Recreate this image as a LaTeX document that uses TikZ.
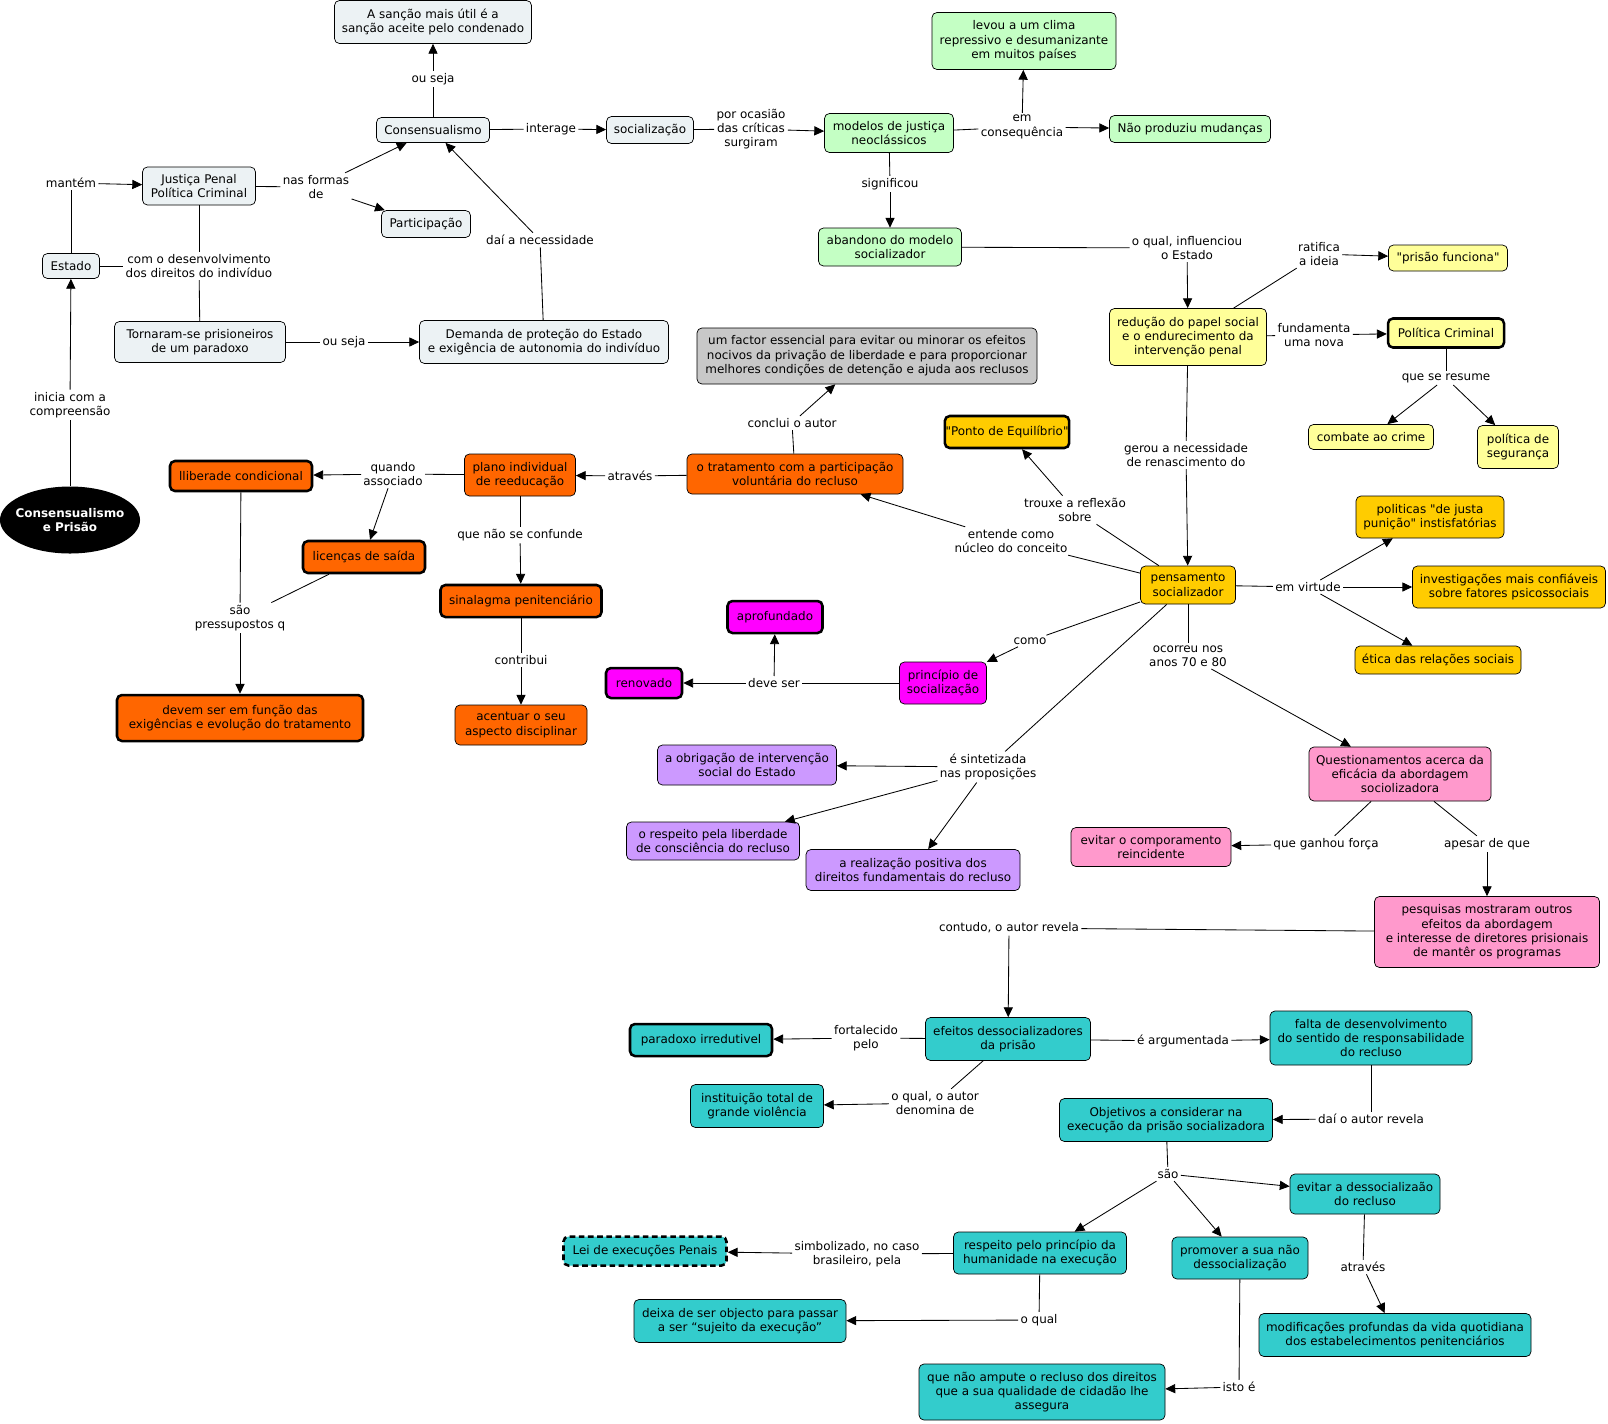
\documentclass[tikz,border=0pt]{standalone}
\usepackage{fontspec}
\newfontfamily\cmfam{DejaVu Sans}
\definecolor{paleblue}{RGB}{236,242,244}
\definecolor{mint}{RGB}{196,255,196}
\definecolor{lemon}{RGB}{255,255,153}
\definecolor{amber}{RGB}{255,204,0}
\definecolor{pumpkin}{RGB}{255,102,0}
\definecolor{silver}{RGB}{200,200,200}
\definecolor{fuchsia}{RGB}{255,0,255}
\definecolor{lilac}{RGB}{204,153,255}
\definecolor{rosepink}{RGB}{255,153,204}
\definecolor{aquabox}{RGB}{51,204,204}
\usetikzlibrary{arrows.meta, shapes.geometric}
\newcommand{\cmfont}{\cmfam\fontsize{8.5pt}{10.2pt}\selectfont}

\begin{document}
\begin{tikzpicture}[x=0.025cm, y=-0.025cm,
  cpt/.style={draw, rounded corners=3.5pt, align=center, font=\cmfont, inner sep=2pt, line width=0.5pt},
  sz/.style 2 args={minimum width=#1*0.025cm, minimum height=#2*0.025cm},
  thk/.style={line width=1.8pt},
  lbl/.style={font=\cmfont, align=center, inner sep=1.5pt},
  link/.style={line width=0.6pt},
  arrow/.style={-{Triangle[length=7pt, width=6.5pt]}, line width=0.6pt},
]
  \fill[white] (0,0) rectangle (1608,1423);
  \useasboundingbox (0,0) rectangle (1608,1423);

  % concepts
  \node[cpt, fill=paleblue, sz={197}{43}] (sancao) at (433,22) {A sanção mais útil é a\\sanção aceite pelo condenado};
  \node[cpt, fill=paleblue, sz={113}{25}] (consens) at (433,130) {Consensualismo};
  \node[cpt, fill=paleblue, sz={113}{38}] (justica) at (199,186) {Justiça Penal\\Política Criminal};
  \node[cpt, fill=paleblue, sz={89}{27}] (particip) at (426,224) {Participação};
  \node[cpt, fill=paleblue, sz={57}{25}] (estado) at (71,266) {Estado};
  \node[cpt, fill=paleblue, sz={171}{41}] (tornaram) at (200,342) {Tornaram-se prisioneiros\\de um paradoxo};
  \node[cpt, fill=paleblue, sz={249}{43}] (demanda) at (544,342) {Demanda de proteção do Estado\\e exigência de autonomia do indivíduo};
  \node[cpt, fill=paleblue, sz={87}{27}] (socializ) at (650,130) {socialização};
  \node[ellipse, fill=black, text=white, align=center, font=\cmfont\bfseries, sz={140}{67}, inner xsep=-3.5pt, inner ysep=0pt] (cprisao) at (70,520) {Consensualismo\\e Prisão};

  \node[cpt, fill=mint, sz={129}{39}] (modelos) at (889,133) {modelos de justiça\\neoclássicos};
  \node[cpt, fill=mint, sz={184}{57}] (levou) at (1024,41) {levou a um clima\\repressivo e desumanizante\\em muitos países};
  \node[cpt, fill=mint, sz={161}{27}] (naoprod) at (1190,129) {Não produziu mudanças};
  \node[cpt, fill=mint, sz={143}{38}] (abandono) at (890,247) {abandono do modelo\\socializador};

  \node[cpt, fill=lemon, sz={157}{57}] (reducao) at (1188,337) {redução do papel social\\e o endurecimento da\\intervenção penal};
  \node[cpt, fill=lemon, sz={119}{26}] (prisaof) at (1448,258) {"prisão funciona"};
  \node[cpt, fill=lemon, thk, sz={116}{29}] (politcrim) at (1446,333) {Política Criminal};
  \node[cpt, fill=lemon, sz={125}{25}] (combate) at (1371,437) {combate ao crime};
  \node[cpt, fill=lemon, sz={81}{43}] (seguranca) at (1518,447) {política de\\segurança};

  \node[cpt, fill=amber, sz={95}{38}] (pensam) at (1188,585) {pensamento\\socializador};
  \node[cpt, fill=amber, thk, sz={115}{32}, inner xsep=0.5pt] (ponto) at (1007,432) {"Ponto de Equilíbrio"};
  \node[cpt, fill=amber, sz={148}{42}] (justapun) at (1430,517) {politicas "de justa\\punição" instisfatórias};
  \node[cpt, fill=amber, sz={193}{42}] (investig) at (1509,587) {investigações mais confiáveis\\sobre fatores psicossociais};
  \node[cpt, fill=amber, sz={166}{28}] (etica) at (1438,660) {ética das relações sociais};

  \node[cpt, fill=silver, sz={340}{56}] (fator) at (867,356) {um factor essencial para evitar ou minorar os efeitos\\nocivos da privação de liberdade e para proporcionar\\melhores condições de detenção e ajuda aos reclusos};

  \node[cpt, fill=pumpkin, sz={216}{40}] (tratam) at (795,474) {o tratamento com a participação\\voluntária do recluso};
  \node[cpt, fill=pumpkin, sz={111}{42}] (plano) at (520,475) {plano individual\\de reeducação};
  \node[cpt, fill=pumpkin, thk, sz={142}{30}] (liberd) at (241,476) {lliberade condicional};
  \node[cpt, fill=pumpkin, thk, sz={122}{32}] (licencas) at (364,557) {licenças de saída};
  \node[cpt, fill=pumpkin, thk, sz={246}{46}] (devem) at (240,718) {devem ser em função das\\exigências e evolução do tratamento};
  \node[cpt, fill=pumpkin, thk, sz={161}{32}] (sinalag) at (521,601) {sinalagma penitenciário};
  \node[cpt, fill=pumpkin, sz={132}{40}] (acentuar) at (521,725) {acentuar o seu\\aspecto disciplinar};

  \node[cpt, fill=fuchsia, sz={87}{42}] (princip) at (943,683) {princípio de\\socialização};
  \node[cpt, fill=fuchsia, thk, sz={76}{30}] (renovado) at (644,683) {renovado};
  \node[cpt, fill=fuchsia, thk, sz={95}{32}] (aprofund) at (775,617) {aprofundado};

  \node[cpt, fill=lilac, sz={179}{40}] (obrigacao) at (747,765) {a obrigação de intervenção\\social do Estado};
  \node[cpt, fill=lilac, sz={173}{38}] (respeitolib) at (713,841) {o respeito pela liberdade\\de consciência do recluso};
  \node[cpt, fill=lilac, sz={214}{41}] (realizacao) at (913,870) {a realização positiva dos\\direitos fundamentais do recluso};

  \node[cpt, fill=rosepink, sz={182}{54}] (question) at (1400,774) {Questionamentos acerca da\\eficácia da abordagem\\sociolizadora};
  \node[cpt, fill=rosepink, sz={160}{39}] (evitarcomp) at (1151,847) {evitar o comporamento\\reincidente};
  \node[cpt, fill=rosepink, sz={225}{71}] (pesquisas) at (1487,932) {pesquisas mostraram outros\\efeitos da abordagem\\e interesse de diretores prisionais\\de mantêr os programas};

  \node[cpt, fill=aquabox, sz={165}{43}] (efeitos) at (1008,1039) {efeitos dessocializadores\\da prisão};
  \node[cpt, fill=aquabox, thk, sz={142}{32}] (paradoxo) at (701,1040) {paradoxo irredutivel};
  \node[cpt, fill=aquabox, sz={133}{43}] (instit) at (757,1106) {instituição total de\\grande violência};
  \node[cpt, fill=aquabox, sz={202}{54}] (falta) at (1371,1038) {falta de desenvolvimento\\do sentido de responsabilidade\\do recluso};
  \node[cpt, fill=aquabox, sz={213}{43}] (objetivos) at (1166,1120) {Objetivos a considerar na\\execução da prisão socializadora};
  \node[cpt, fill=aquabox, sz={150}{40}] (evitardes) at (1365,1194) {evitar a dessocializaão\\do recluso};
  \node[cpt, fill=aquabox, sz={173}{42}] (respprinc) at (1040,1253) {respeito pelo princípio da\\humanidade na execução};
  \node[cpt, fill=aquabox, sz={136}{42}] (promover) at (1240,1258) {promover a sua não\\dessocialização};
  \node[cpt, fill=aquabox, sz={272}{43}] (modific) at (1395,1335) {modificações profundas da vida quotidiana\\dos estabelecimentos penitenciários};
  \node[cpt, fill=aquabox, line width=1.8pt, dash pattern=on 4pt off 2.5pt, sz={163}{29}] (leiexec) at (645,1251) {Lei de execuções Penais};
  \node[cpt, fill=aquabox, sz={212}{43}] (deixa) at (740,1321) {deixa de ser objecto para passar\\a ser “sujeito da execução”};
  \node[cpt, fill=aquabox, sz={246}{56}] (ampute) at (1042,1392) {que não ampute o recluso dos direitos\\que a sua qualidade de cidadão lhe\\assegura};

  % linking phrases
  \node[lbl] (lOuSeja1) at (433,79) {ou seja};
  \node[lbl] (lInterage) at (551,129) {interage};
  \node[lbl] (lPorOcasiao) at (751,129) {por ocasião\\das críticas\\surgiram};
  \node[lbl] (lEmConseq) at (1022,127) {em\\consequência};
  \node[lbl] (lSignificou) at (890,184) {significou};
  \node[lbl] (lInfluenciou) at (1187,248) {o qual, influenciou\\o Estado};
  \node[lbl] (lRatifica) at (1319,254) {ratifica\\a ideia};
  \node[lbl] (lFundamenta) at (1314,335) {fundamenta\\uma nova};
  \node[lbl] (lResume) at (1446,378) {que se resume};
  \node[lbl] (lGerou) at (1186,455) {gerou a necessidade\\de renascimento do};
  \node[lbl] (lVirtude) at (1308,587) {em virtude};
  \node[lbl] (lTrouxe) at (1075,510) {trouxe a reflexão\\sobre};
  \node[lbl] (lEntende) at (1011,541) {entende como\\núcleo do conceito};
  \node[lbl] (lConclui) at (792,423) {conclui o autor};
  \node[lbl] (lAtraves1) at (630,476) {através};
  \node[lbl] (lQuando) at (393,474) {quando\\associado};
  \node[lbl] (lConfunde) at (520,535) {que não se confunde};
  \node[lbl] (lContribui) at (521,660) {contribui};
  \node[lbl] (lPressup) at (240,618) {são\\pressupostos q};
  \node[lbl] (lComo) at (1030,641) {como};
  \node[lbl] (lDeveSer) at (774,683) {deve ser};
  \node[lbl] (lSintet) at (988,767) {é sintetizada\\nas proposições};
  \node[lbl] (lOcorreu) at (1188,656) {ocorreu nos\\anos 70 e 80};
  \node[lbl] (lGanhou) at (1326,844) {que ganhou força};
  \node[lbl] (lApesar) at (1487,844) {apesar de que};
  \node[lbl] (lContudo) at (1009,928) {contudo, o autor revela};
  \node[lbl] (lFortal) at (866,1038) {fortalecido\\pelo};
  \node[lbl] (lDenomina) at (935,1103) {o qual, o autor\\denomina de};
  \node[lbl] (lArgument) at (1183,1041) {é argumentada};
  \node[lbl] (lDaiRevela) at (1371,1119) {daí o autor revela};
  \node[lbl] (lSao) at (1168,1174) {são};
  \node[lbl] (lAtraves2) at (1363,1267) {através};
  \node[lbl] (lSimboliz) at (857,1254) {simbolizado, no caso\\brasileiro, pela};
  \node[lbl] (lOQual) at (1039,1320) {o qual};
  \node[lbl] (lIstoE) at (1239,1387) {isto é};
  \node[lbl] (lMantem) at (71,183) {mantém};
  \node[lbl] (lFormas) at (316,187) {nas formas\\de};
  \node[lbl] (lDesenv) at (199,266) {com o desenvolvimento\\dos direitos do indivíduo};
  \node[lbl] (lOuSeja2) at (344,342) {ou seja};
  \node[lbl] (lDaiNec) at (540,240) {daí a necessidade};
  \node[lbl] (lInicia) at (70,405) {inicia com a\\compreensão};

  % connectors
  \draw[link] (cprisao) -- (lInicia); \draw[arrow] (lInicia) -- (estado);
  \draw[link] (estado) -- (lMantem); \draw[arrow] (lMantem) -- (justica);
  \draw[link] (justica) -- (lFormas); \draw[arrow] (lFormas) -- (consens); \draw[arrow] (lFormas) -- (particip);
  \draw[link] (estado) -- (lDesenv); \draw[link] (justica) -- (lDesenv); \draw[link] (lDesenv) -- (tornaram);
  \draw[link] (tornaram) -- (lOuSeja2); \draw[arrow] (lOuSeja2) -- (demanda);
  \draw[link] (demanda) -- (lDaiNec); \draw[arrow] (lDaiNec) -- (consens);
  \draw[link] (consens) -- (lOuSeja1); \draw[arrow] (lOuSeja1) -- (sancao);
  \draw[link] (consens) -- (lInterage); \draw[arrow] (lInterage) -- (socializ);
  \draw[link] (socializ) -- (lPorOcasiao); \draw[arrow] (lPorOcasiao) -- (modelos);
  \draw[link] (modelos) -- (lEmConseq); \draw[arrow] (lEmConseq) -- (levou); \draw[arrow] (lEmConseq) -- (naoprod);
  \draw[link] (modelos) -- (lSignificou); \draw[arrow] (lSignificou) -- (abandono);
  \draw[link] (abandono) -- (lInfluenciou); \draw[arrow] (lInfluenciou) -- (reducao);
  \draw[link] (reducao) -- (lRatifica); \draw[arrow] (lRatifica) -- (prisaof);
  \draw[link] (reducao) -- (lFundamenta); \draw[arrow] (lFundamenta) -- (politcrim);
  \draw[link] (politcrim) -- (lResume); \draw[arrow] (lResume) -- (combate); \draw[arrow] (lResume) -- (seguranca);
  \draw[link] (reducao) -- (lGerou); \draw[arrow] (lGerou) -- (pensam);
  \draw[link] (pensam) -- (lVirtude); \draw[arrow] (lVirtude) -- (justapun); \draw[arrow] (lVirtude) -- (investig); \draw[arrow] (lVirtude) -- (etica);
  \draw[link] (pensam) -- (lTrouxe); \draw[arrow] (lTrouxe) -- (ponto);
  \draw[link] (pensam) -- (lEntende); \draw[arrow] (lEntende) -- (tratam);
  \draw[link] (tratam) -- (lConclui); \draw[arrow] (lConclui) -- (fator);
  \draw[link] (tratam) -- (lAtraves1); \draw[arrow] (lAtraves1) -- (plano);
  \draw[link] (plano) -- (lQuando); \draw[arrow] (lQuando) -- (liberd); \draw[arrow] (lQuando) -- (licencas);
  \draw[link] (plano) -- (lConfunde); \draw[arrow] (lConfunde) -- (sinalag);
  \draw[link] (sinalag) -- (lContribui); \draw[arrow] (lContribui) -- (acentuar);
  \draw[link] (liberd) -- (lPressup); \draw[link] (licencas) -- (lPressup); \draw[arrow] (lPressup) -- (devem);
  \draw[link] (pensam) -- (lComo); \draw[arrow] (lComo) -- (princip);
  \draw[link] (princip) -- (lDeveSer); \draw[arrow] (lDeveSer) -- (renovado); \draw[arrow] (lDeveSer) -- (aprofund);
  \draw[link] (pensam) -- (lSintet); \draw[arrow] (lSintet) -- (obrigacao); \draw[arrow] (lSintet) -- (respeitolib); \draw[arrow] (lSintet) -- (realizacao);
  \draw[link] (pensam) -- (lOcorreu); \draw[arrow] (lOcorreu) -- (question);
  \draw[link] (question) -- (lGanhou); \draw[arrow] (lGanhou) -- (evitarcomp);
  \draw[link] (question) -- (lApesar); \draw[arrow] (lApesar) -- (pesquisas);
  \draw[link] (pesquisas) -- (lContudo); \draw[arrow] (lContudo) -- (efeitos);
  \draw[link] (efeitos) -- (lFortal); \draw[arrow] (lFortal) -- (paradoxo);
  \draw[link] (efeitos) -- (lDenomina); \draw[arrow] (lDenomina) -- (instit);
  \draw[link] (efeitos) -- (lArgument); \draw[arrow] (lArgument) -- (falta);
  \draw[link] (falta) -- (lDaiRevela); \draw[arrow] (lDaiRevela) -- (objetivos);
  \draw[link] (objetivos) -- (lSao); \draw[arrow] (lSao) -- (respprinc); \draw[arrow] (lSao) -- (promover); \draw[arrow] (lSao) -- (evitardes);
  \draw[link] (evitardes) -- (lAtraves2); \draw[arrow] (lAtraves2) -- (modific);
  \draw[link] (respprinc) -- (lSimboliz); \draw[arrow] (lSimboliz) -- (leiexec);
  \draw[link] (respprinc) -- (lOQual); \draw[arrow] (lOQual) -- (deixa);
  \draw[link] (promover) -- (lIstoE); \draw[arrow] (lIstoE) -- (ampute);
\end{tikzpicture}
\end{document}
